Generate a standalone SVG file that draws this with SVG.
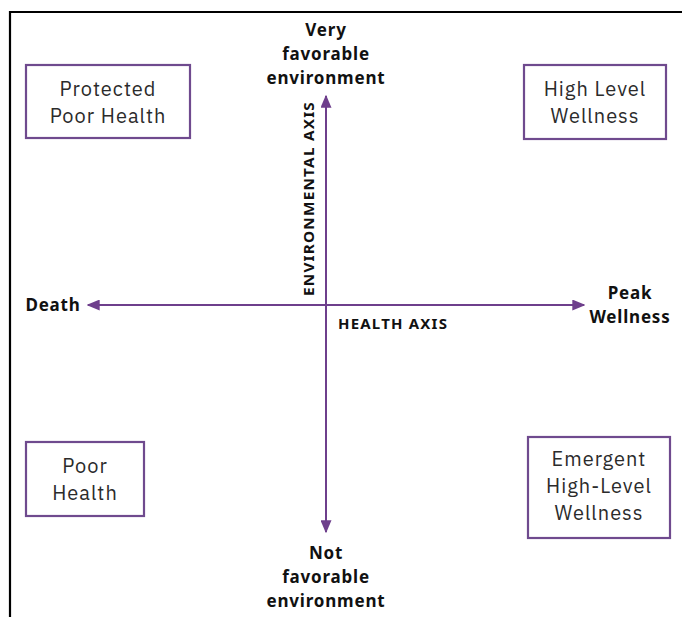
<svg xmlns="http://www.w3.org/2000/svg" width="682" height="617" viewBox="0 0 682 617">
<style>
.box{fill:#fff;stroke:#6f4a8e;stroke-width:2.2}
.bt{font-family:"IBM Plex Sans","Noto Sans","Liberation Sans",sans-serif;font-size:20px;letter-spacing:1px;fill:#2b2b2b;text-anchor:middle}
.lb{font-family:"Noto Sans","Liberation Sans",sans-serif;font-weight:bold;font-size:17px;letter-spacing:0.8px;fill:#111;text-anchor:middle}
.ax{font-family:"Noto Sans","Liberation Sans",sans-serif;font-weight:bold;font-size:15px;letter-spacing:1.2px;fill:#111}
.axis{stroke:#6e3f8c;stroke-width:2;fill:none}
</style>
<defs>
<marker id="ah" viewBox="0 0 10 10" refX="9" refY="5" markerWidth="13" markerHeight="11" markerUnits="userSpaceOnUse" orient="auto-start-reverse" preserveAspectRatio="none">
<path d="M0,0 L10,5 L0,10 Z" fill="#6e3f8c"/>
</marker>
</defs>
<rect width="682" height="617" fill="#fff"/>
<g id="frame">
<path d="M10,617 V12 H682" fill="none" stroke="#000" stroke-width="2.2"/>
</g>
<g id="connectors">
<line class="axis" x1="326" y1="532" x2="326" y2="96" marker-start="url(#ah)" marker-end="url(#ah)"/>
<line class="axis" x1="88" y1="305" x2="584" y2="305" marker-start="url(#ah)" marker-end="url(#ah)"/>
</g>
<g id="labels">
<text class="lb" x="326" y="36">Very</text>
<text class="lb" x="326" y="60">favorable</text>
<text class="lb" x="326" y="84">environment</text>
<text class="lb" x="326" y="559">Not</text>
<text class="lb" x="326" y="583">favorable</text>
<text class="lb" x="326" y="607">environment</text>
<text class="lb" x="53" y="311">Death</text>
<text class="lb" x="630" y="299">Peak</text>
<text class="lb" x="630" y="323">Wellness</text>
<text class="ax" x="338" y="329">HEALTH AXIS</text>
<text class="ax" transform="translate(314,296) rotate(-90)" textLength="195" lengthAdjust="spacingAndGlyphs">ENVIRONMENTAL AXIS</text>
</g>
<g id="protected-poor-health">
<rect class="box" x="26" y="65" width="164" height="73"/>
<text class="bt" x="108" y="96">Protected</text>
<text class="bt" x="108" y="123">Poor Health</text>
</g>
<g id="high-level-wellness">
<rect class="box" x="524" y="65" width="142" height="74"/>
<text class="bt" x="595" y="96">High Level</text>
<text class="bt" x="595" y="123">Wellness</text>
</g>
<g id="poor-health">
<rect class="box" x="26" y="442" width="118" height="74"/>
<text class="bt" x="85" y="473">Poor</text>
<text class="bt" x="85" y="500">Health</text>
</g>
<g id="emergent-high-level-wellness">
<rect class="box" x="528" y="437" width="142" height="101"/>
<text class="bt" x="599" y="466">Emergent</text>
<text class="bt" x="599" y="493">High-Level</text>
<text class="bt" x="599" y="520">Wellness</text>
</g>
</svg>
